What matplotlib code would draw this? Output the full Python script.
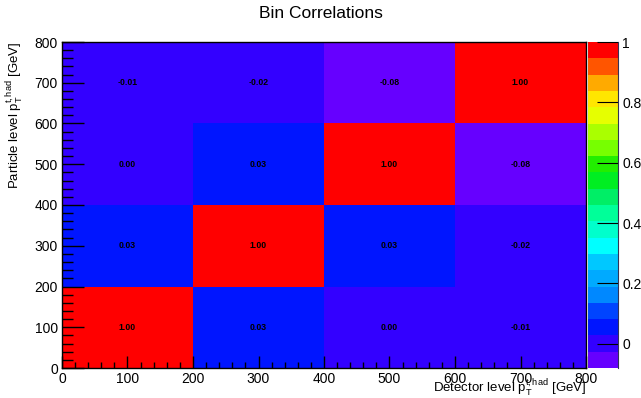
import numpy as np
import matplotlib
matplotlib.use("Agg")
import matplotlib.pyplot as plt
from matplotlib.colors import ListedColormap, BoundaryNorm

plt.rcParams['font.family'] = ['Liberation Sans', 'DejaVu Sans']
plt.rcParams['mathtext.fontset'] = 'custom'
plt.rcParams['mathtext.rm'] = 'Liberation Sans'
plt.rcParams['mathtext.it'] = 'Liberation Sans'

# bin edges (GeV) and correlation values, rows = particle level bins (bottom to top)
x_edges = [0, 200, 400, 600, 800]
y_edges = [0, 200, 400, 600, 800]
corr = np.array([
    [1.00, 0.03, 0.00, -0.01],
    [0.03, 1.00, 0.03, -0.02],
    [0.00, 0.03, 1.00, -0.08],
    [-0.01, -0.02, -0.08, 1.00],
])

# 20 contour colours, bottom (violet) to top (red)
palette = ["#6600ff", "#3300ff", "#0015ff", "#0044ff", "#0088ff",
           "#00aaff", "#00c8ff", "#00ffff", "#00ffcc", "#00ff99",
           "#00ee66", "#00ee22", "#22ee00", "#77ff00", "#aaff00",
           "#e6ff00", "#ffe600", "#ffaa00", "#ff5500", "#ff0000"]

zmin, zmax = -0.08, 1.0
levels = np.linspace(zmin, zmax, 21)
cmap = ListedColormap(palette)
norm = BoundaryNorm(levels, cmap.N)

fig = plt.figure(figsize=(6.41, 3.98), dpi=100)
W, H = 641, 398
ax = fig.add_axes([62 / W, (H - 368) / H, (586 - 62) / W, (368 - 42) / H])
cax = fig.add_axes([588 / W, (H - 368) / H, (618 - 588) / W, (368 - 42) / H])

ax.pcolormesh(x_edges, y_edges, corr, cmap=cmap, norm=norm)

for i in range(corr.shape[0]):
    for j in range(corr.shape[1]):
        xc = 0.5 * (x_edges[j] + x_edges[j + 1])
        yc = 0.5 * (y_edges[i] + y_edges[i + 1])
        ax.text(xc, yc, f"{corr[i, j]:.2f}", ha='center', va='center',
                fontsize=6.3, fontweight='bold', color='black')

ax.set_xlim(0, 800)
ax.set_ylim(0, 800)
ax.set_xticks(np.arange(0, 801, 100))
ax.set_yticks(np.arange(0, 801, 100))
ax.set_xticks(np.arange(0, 801, 20), minor=True)
ax.set_yticks(np.arange(0, 801, 20), minor=True)
ax.tick_params(which='both', direction='in', labelsize=10, width=1)
ax.tick_params(axis='x', which='major', length=9, pad=3)
ax.tick_params(axis='x', which='minor', length=4.5)
ax.tick_params(axis='y', which='major', length=16, pad=3)
ax.tick_params(axis='y', which='minor', length=8)
for sp in ax.spines.values():
    sp.set_linewidth(1)

fig.text(586 / W, (H - 393) / H,
         r"Detector level p$_{\mathrm{T}}^{\mathrm{t,had}}$ [GeV]",
         fontsize=9.5, ha='right', va='baseline')
ax.set_ylabel(r"Particle level p$_{\mathrm{T}}^{\mathrm{t,had}}$ [GeV]",
              fontsize=9.5, loc='top', labelpad=6)

fig.suptitle("Bin Correlations", fontsize=12.5, x=0.5, y=0.985)

# colour scale
cax.pcolormesh([0, 1], levels, np.array(levels[:-1]).reshape(-1, 1),
               cmap=cmap, norm=norm)
cax.set_xlim(0, 1)
cax.set_ylim(zmin, zmax)
cax.set_xticks([])
cax.yaxis.tick_right()
cax.set_yticks([0, 0.2, 0.4, 0.6, 0.8, 1.0])
cax.set_yticklabels(["0", "0.2", "0.4", "0.6", "0.8", "1"])
cax.tick_params(axis='y', direction='in', length=15, labelsize=10, pad=3)
for sp in cax.spines.values():
    sp.set_visible(False)
cax.spines['right'].set_visible(True)
cax.spines['right'].set_linewidth(0.8)
cax.spines['right'].set_color('#333355')

fig.savefig("out.png", dpi=100)
